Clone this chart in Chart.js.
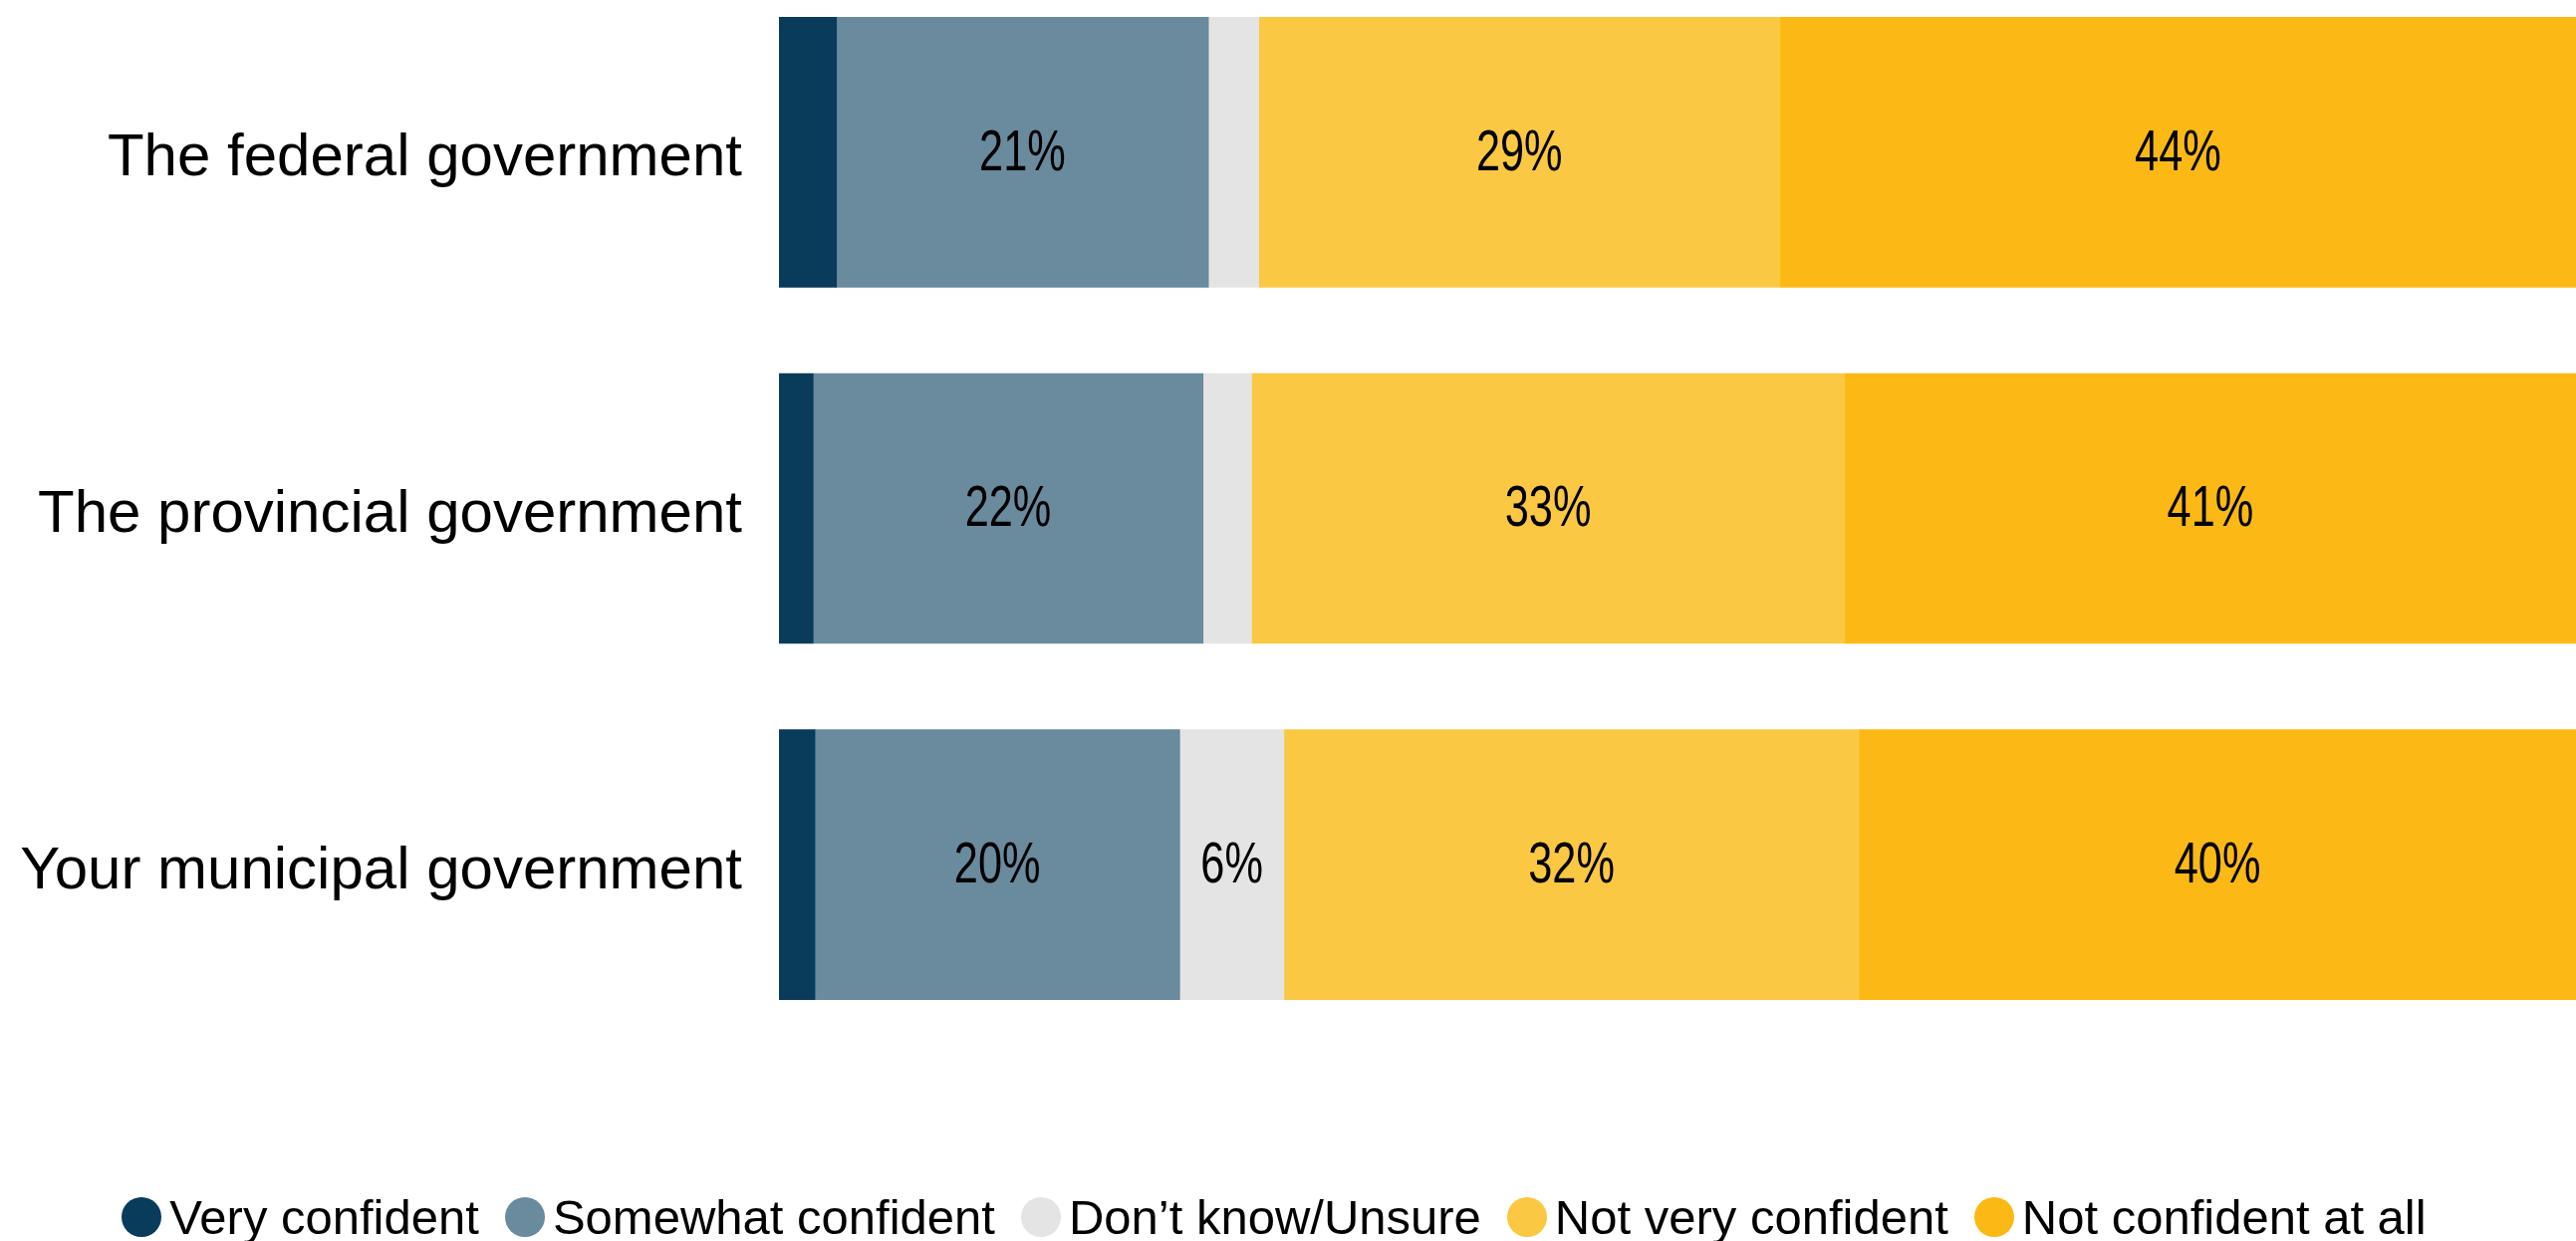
<!DOCTYPE html>
<html>
<head>
<meta charset="utf-8">
<script src="https://cdn.jsdelivr.net/npm/chart.js@4/dist/chart.umd.min.js"></script>
<style>
  html, body { margin: 0; padding: 0; background: #fff; overflow: hidden; }
  body { width: 2586px; height: 1246px; position: relative; }
  #wrap { position: absolute; left: 0; top: -26px; width: 2586px; height: 1073px; }
  #legend {
    position: absolute; left: 0; width: 2586px; top: 1197px; height: 50px;
    display: flex; justify-content: center; align-items: center; gap: 26px;
    font-family: "Liberation Sans", Arial, sans-serif; font-size: 49px; color: #000;
    transform: translateX(-14px);
  }
  #legend .item { display: flex; align-items: center; white-space: nowrap; }
  #legend .dot { width: 40px; height: 40px; border-radius: 50%; margin-right: 8px; }
</style>
</head>
<body>
<div id="wrap"><canvas id="chart"></canvas></div>
<div id="legend"></div>
<script>
(function () {
  'use strict';

  // Rows, top to bottom
  var categories = ['The federal government', 'The provincial government', 'Your municipal government'];

  // Series values (%)
  var veryConfident     = [3.2, 1.9, 2.0];
  var somewhatConfident = [20.7, 21.7, 20.3];
  var dontKnow          = [2.8, 2.7, 5.8];
  var notVeryConfident  = [29.0, 33.0, 32.0];
  var notConfidentAtAll = [44.3, 40.7, 39.9];

  var seriesNames = ['Very confident', 'Somewhat confident', 'Don\u2019t know/Unsure', 'Not very confident', 'Not confident at all'];
  var seriesValues = [veryConfident, somewhatConfident, dontKnow, notVeryConfident, notConfidentAtAll];
  var seriesColors = ['#083c5a', '#6a8a9d', '#e4e4e4', '#fbc843', '#fcb916'];

  var LABEL_FONT = '"Liberation Sans", Arial, sans-serif';

  // Percent labels in the middle of each segment (small ones skipped).
  // The source font is narrow, so squeeze the text horizontally a bit.
  var valueLabels = {
    id: 'valueLabels',
    afterDatasetsDraw: function (chart) {
      var ctx = chart.ctx;
      ctx.save();
      ctx.font = '57px ' + LABEL_FONT;
      ctx.fillStyle = '#000';
      ctx.textAlign = 'center';
      ctx.textBaseline = 'middle';
      chart.data.datasets.forEach(function (ds, i) {
        var meta = chart.getDatasetMeta(i);
        meta.data.forEach(function (bar, j) {
          var v = ds.data[j];
          if (v < 5) return;
          var p = bar.getCenterPoint();
          ctx.save();
          ctx.translate(p.x, p.y + 2);
          ctx.scale(0.76, 1);
          ctx.fillText(Math.round(v) + '%', 0, 0);
          ctx.restore();
        });
      });
      ctx.restore();
    }
  };

  var datasets = seriesNames.map(function (name, i) {
    return {
      label: name,
      data: seriesValues[i],
      backgroundColor: seriesColors[i],
      borderWidth: 0,
      barThickness: 271
    };
  });

  new Chart(document.getElementById('chart'), {
    type: 'bar',
    data: { labels: categories, datasets: datasets },
    options: {
      indexAxis: 'y',
      responsive: true,
      maintainAspectRatio: false,
      animation: false,
      layout: { padding: 0 },
      plugins: {
        legend: { display: false },
        tooltip: { enabled: false }
      },
      scales: {
        x: { stacked: true, min: 0, max: 100, display: false },
        y: {
          stacked: true,
          grid: { display: false, drawTicks: false },
          border: { display: false },
          ticks: { color: '#000', padding: 37, labelOffset: 7, font: { family: LABEL_FONT, size: 60 } },
          afterFit: function (scale) {
            // fixed axis width; don't let label padding shrink the plot vertically
            scale.width = 782;
            scale.paddingTop = 0;
            scale.paddingBottom = 0;
          }
        }
      }
    },
    plugins: [valueLabels]
  });

  // HTML legend below the chart
  var legend = document.getElementById('legend');
  seriesNames.forEach(function (name, i) {
    var item = document.createElement('div');
    item.className = 'item';
    var dot = document.createElement('span');
    dot.className = 'dot';
    dot.style.background = seriesColors[i];
    item.appendChild(dot);
    item.appendChild(document.createTextNode(name));
    legend.appendChild(item);
  });
}());
</script>
</body>
</html>
